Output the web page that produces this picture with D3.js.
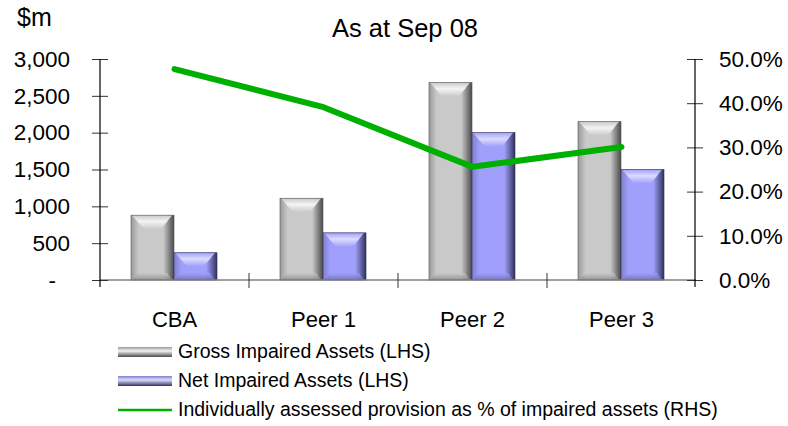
<!DOCTYPE html>
<html>
<head>
<meta charset="utf-8">
<script src="https://cdn.jsdelivr.net/npm/d3@7"></script>
<style>
  body { margin: 0; background: #fff; }
  svg { font-family: "Liberation Sans", Arial, sans-serif; }
</style>
</head>
<body>
<svg id="chart" width="788" height="426"></svg>
<script>
// data
const categories = ["CBA", "Peer 1", "Peer 2", "Peer 3"];
const grossImpaired = [880, 1110, 2680, 2150];
const netImpaired = [370, 640, 2000, 1500];
const provisionPct = [47.7, 39.1, 25.6, 30.1];
const leftTicks = [0, 500, 1000, 1500, 2000, 2500, 3000];
const rightTicks = [0, 10, 20, 30, 40, 50];
const seriesNames = [
  "Gross Impaired Assets (LHS)",
  "Net Impaired Assets (LHS)",
  "Individually assessed provision as % of impaired assets (RHS)"
];

const svg = d3.select("#chart");
const margin = { top: 59, left: 100, right: 92, bottom: 146 };
const width = 788 - margin.left - margin.right;
const height = 426 - margin.top - margin.bottom;

const g = svg.append("g").attr("transform", "translate(" + margin.left + "," + margin.top + ")");

const x0 = d3.scaleBand().domain(categories).range([0, width]);
const x1 = d3.scaleBand().domain(["gross", "net"]).range([31, x0.bandwidth() - 32]);
const y = d3.scaleLinear().domain([0, 3000]).range([height, 0]);
const y2 = d3.scaleLinear().domain([0, 50]).range([height, 0]);

// gradients for the bevelled bars
const defs = svg.append("defs");
const palettes = {
  gross: { light: "#f4f4f4", mid: "#c9c9c9", left: "#9a9a9a", dark: "#4a4a4a", bottom: "#8a8a8a" },
  net: { light: "#dcdcff", mid: "#a0a0fc", left: "#7f7fd0", dark: "#32325e", bottom: "#6e6eb4" }
};
Object.keys(palettes).forEach(k => {
  const p = palettes[k];
  const h = defs.append("linearGradient").attr("id", "h-" + k).attr("x1", 0).attr("x2", 1).attr("y1", 0).attr("y2", 0);
  h.append("stop").attr("offset", "0%").attr("stop-color", p.left);
  h.append("stop").attr("offset", "18%").attr("stop-color", p.mid);
  h.append("stop").attr("offset", "75%").attr("stop-color", p.mid);
  h.append("stop").attr("offset", "100%").attr("stop-color", p.dark);
  const t = defs.append("linearGradient").attr("id", "t-" + k).attr("x1", 0).attr("x2", 0).attr("y1", 0).attr("y2", 1);
  t.append("stop").attr("offset", "0%").attr("stop-color", p.mid);
  t.append("stop").attr("offset", "45%").attr("stop-color", p.light);
  t.append("stop").attr("offset", "100%").attr("stop-color", p.mid);
  const b = defs.append("linearGradient").attr("id", "b-" + k).attr("x1", 0).attr("x2", 0).attr("y1", 0).attr("y2", 1);
  b.append("stop").attr("offset", "0%").attr("stop-color", p.mid);
  b.append("stop").attr("offset", "100%").attr("stop-color", p.bottom);
});

function bevelBar(sel, x, yTop, w, h, key) {
  const grp = sel.append("g");
  grp.append("rect").attr("x", x).attr("y", yTop).attr("width", w).attr("height", h)
    .attr("fill", "url(#h-" + key + ")");
  const tb = Math.min(14, h / 2);
  const inset = Math.min(13, w / 2);
  grp.append("path")
    .attr("d", `M${x + 1},${yTop} L${x + w - 2},${yTop} L${x + w - inset},${yTop + tb} L${x + inset},${yTop + tb} Z`)
    .attr("fill", "url(#t-" + key + ")");
  const bb = Math.min(7, h / 3);
  grp.append("path")
    .attr("d", `M${x + 1},${yTop + h} L${x + w - 2},${yTop + h} L${x + w - 7},${yTop + h - bb} L${x + 7},${yTop + h - bb} Z`)
    .attr("fill", "url(#b-" + key + ")").attr("opacity", 0.8);
  grp.append("rect").attr("x", x).attr("y", yTop).attr("width", w).attr("height", h)
    .attr("fill", "none").attr("stroke", key === "gross" ? "#555" : "#2c2c55").attr("stroke-width", 0.6);
  return grp;
}

// bars
const groups = g.selectAll(".cat").data(categories).enter().append("g")
  .attr("class", "cat")
  .attr("transform", d => "translate(" + x0(d) + ",0)");

groups.each(function(d, i) {
  const sel = d3.select(this);
  bevelBar(sel, x1("gross"), y(grossImpaired[i]), x1.bandwidth(), height - y(grossImpaired[i]), "gross");
  bevelBar(sel, x1("net"), y(netImpaired[i]), x1.bandwidth(), height - y(netImpaired[i]), "net");
});

// x axis (gray baseline with crossing ticks)
g.append("line").attr("x1", 0).attr("x2", width).attr("y1", height).attr("y2", height)
  .attr("stroke", "#808080").attr("stroke-width", 1.5);
const xTicks = d3.range(1, categories.length).map(i => i * x0.step());
g.selectAll(".xtick").data(xTicks).enter().append("line")
  .attr("x1", d => d).attr("x2", d => d).attr("y1", height - 7).attr("y2", height + 8)
  .attr("stroke", "#333").attr("stroke-width", 1);
g.selectAll(".xlab").data(categories).enter().append("text")
  .attr("x", d => x0(d) + x0.bandwidth() / 2)
  .attr("y", height + 47)
  .attr("text-anchor", "middle")
  .attr("font-size", 22)
  .text(d => d);

// left axis
const leftAxis = g.append("g")
  .call(d3.axisLeft(y).tickValues(leftTicks).tickSize(8).tickPadding(22)
    .tickFormat(d => d === 0 ? "-" : d3.format(",")(d)));
leftAxis.select(".domain").remove();
leftAxis.selectAll(".tick line").attr("x2", 8).attr("x1", -8).attr("stroke", "#333");
leftAxis.selectAll(".tick text").attr("font-size", 22.5).attr("font-family", "Liberation Sans, Arial, sans-serif").attr("fill", "#000");
leftAxis.select(".tick text").attr("dx", -14);
g.append("line").attr("x1", 0).attr("x2", 0).attr("y1", 0).attr("y2", height + 7).attr("stroke", "#000").attr("stroke-width", 1.2);

// right axis
const rightAxis = g.append("g").attr("transform", "translate(" + (width - 1) + ",0)")
  .call(d3.axisRight(y2).tickValues(rightTicks).tickSize(8).tickPadding(16)
    .tickFormat(d => d.toFixed(1) + "%"));
rightAxis.select(".domain").remove();
rightAxis.selectAll(".tick line").attr("x1", -8).attr("x2", 8).attr("stroke", "#333");
rightAxis.selectAll(".tick text").attr("font-size", 22.5).attr("font-family", "Liberation Sans, Arial, sans-serif").attr("fill", "#000");
g.append("line").attr("x1", width - 1).attr("x2", width - 1).attr("y1", 0).attr("y2", height + 7).attr("stroke", "#000").attr("stroke-width", 1.2);

// provision line
const line = d3.line()
  .x((d, i) => x0(categories[i]) + x0.bandwidth() / 2)
  .y(d => y2(d));
g.append("path").datum(provisionPct)
  .attr("d", line)
  .attr("fill", "none")
  .attr("stroke", "#00b000")
  .attr("stroke-width", 6)
  .attr("stroke-linecap", "round")
  .attr("stroke-linejoin", "round");

// titles
svg.append("text").attr("x", 405).attr("y", 37).attr("text-anchor", "middle").attr("font-size", 25.5).text("As at Sep 08");
svg.append("text").attr("x", 17).attr("y", 26).attr("font-size", 25).text("$m");

// legend
const legend = svg.append("g").attr("transform", "translate(118,347)");
const rowH = 29;
[0, 1].forEach(i => {
  const key = i === 0 ? "gross" : "net";
  const p = palettes[key];
  const lg = defs.append("linearGradient").attr("id", "lg-" + key).attr("x1", 0).attr("x2", 0).attr("y1", 0).attr("y2", 1);
  lg.append("stop").attr("offset", "0%").attr("stop-color", p.left);
  lg.append("stop").attr("offset", "40%").attr("stop-color", p.light);
  lg.append("stop").attr("offset", "100%").attr("stop-color", p.dark);
  legend.append("rect").attr("x", 0).attr("y", i * rowH).attr("width", 54).attr("height", 10)
    .attr("fill", "url(#lg-" + key + ")");
});
legend.append("line").attr("x1", 0).attr("x2", 54).attr("y1", 2 * rowH + 5).attr("y2", 2 * rowH + 5)
  .attr("stroke", "#00b000").attr("stroke-width", 2.5);
legend.selectAll(".ltext").data(seriesNames).enter().append("text")
  .attr("x", 60)
  .attr("y", (d, i) => i * rowH + 11)
  .attr("font-size", 19.5)
  .text(d => d);
</script>
</body>
</html>
